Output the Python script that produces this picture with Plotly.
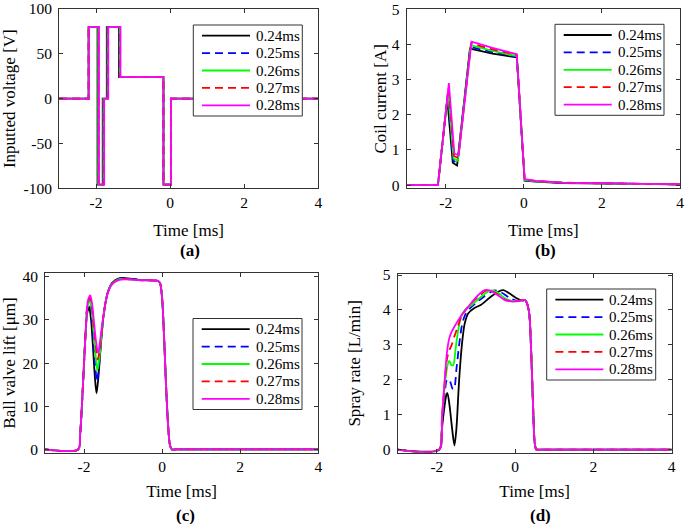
import plotly.graph_objects as go

labels = ["0.24ms", "0.25ms", "0.26ms", "0.27ms", "0.28ms"]
colors = ["#000000", "#0000ff", "#00ff00", "#ff0000", "#ff00ff"]
dashes = ["solid", "8px,5px", "solid", "8px,5px", "solid"]

# (a) Inputted voltage [V]
volt_t = [
    [-3, -2.2, -1.96, -1.82, -1.71, -1.38, -0.18, 0.02, 4],
    [-3, -2.2, -1.95, -1.81, -1.70, -1.37, -0.18, 0.02, 4],
    [-3, -2.2, -1.94, -1.80, -1.69, -1.36, -0.18, 0.02, 4],
    [-3, -2.2, -1.93, -1.79, -1.68, -1.35, -0.18, 0.02, 4],
    [-3, -2.2, -1.92, -1.78, -1.67, -1.34, -0.18, 0.02, 4],
]
volt_v = [0, 80, -96, 0, 80, 24, -96, 0, 0]

# (b) Coil current [A]
cur_t = [
    [-3, -2.2, -1.96, -1.82, -1.71, -1.38, -0.8, -0.18, 0.02, 0.3, 1, 2, 3, 4],
    [-3, -2.2, -1.95, -1.81, -1.70, -1.37, -0.8, -0.18, 0.02, 0.3, 1, 2, 3, 4],
    [-3, -2.2, -1.94, -1.80, -1.69, -1.36, -0.8, -0.18, 0.02, 0.3, 1, 2, 3, 4],
    [-3, -2.2, -1.93, -1.79, -1.68, -1.35, -0.8, -0.18, 0.02, 0.3, 1, 2, 3, 4],
    [-3, -2.2, -1.92, -1.78, -1.67, -1.34, -0.8, -0.18, 0.02, 0.3, 1, 2, 3, 4],
]
cur_v = [
    [0, 0, 2.45, 0.64, 0.56, 3.88, 3.74, 3.63, 0.13, 0.10, 0.06, 0.04, 0.03, 0.02],
    [0, 0, 2.56, 0.70, 0.62, 3.93, 3.78, 3.65, 0.14, 0.11, 0.065, 0.045, 0.03, 0.02],
    [0, 0, 2.67, 0.76, 0.69, 3.98, 3.82, 3.67, 0.15, 0.11, 0.07, 0.045, 0.03, 0.02],
    [0, 0, 2.78, 0.83, 0.77, 4.03, 3.86, 3.70, 0.16, 0.12, 0.07, 0.05, 0.03, 0.02],
    [0, 0, 2.90, 0.90, 0.85, 4.08, 3.90, 3.72, 0.17, 0.12, 0.07, 0.05, 0.03, 0.02],
]

# (c) Ball valve lift [um]
lift_common_rise_t = [-3, -2.15, -2.1, -2.05, -2.0, -1.96]
lift_common_rise_v = [0, 0, 3.5, 11, 20, 27]
lift_t = [
    [-1.92, -1.87, -1.82, -1.77, -1.72, -1.68, -1.63, -1.58, -1.52, -1.45, -1.38, -1.28, -1.12, -0.95, -0.6],
    [-1.92, -1.86, -1.81, -1.76, -1.71, -1.67, -1.62, -1.57, -1.51, -1.45, -1.38, -1.28, -1.12, -0.95, -0.6],
    [-1.91, -1.855, -1.80, -1.75, -1.70, -1.66, -1.61, -1.56, -1.51, -1.45, -1.38, -1.28, -1.12, -0.95, -0.6],
    [-1.91, -1.85, -1.80, -1.75, -1.69, -1.65, -1.60, -1.55, -1.51, -1.45, -1.38, -1.28, -1.12, -0.95, -0.6],
    [-1.90, -1.84, -1.79, -1.74, -1.69, -1.64, -1.59, -1.55, -1.50, -1.45, -1.38, -1.28, -1.12, -0.95, -0.6],
]
lift_v = [
    [31.5, 33.0, 30.0, 23.5, 16.5, 13.0, 17.0, 23.0, 29.5, 34.0, 36.8, 38.6, 39.6, 39.7, 39.3],
    [32.5, 33.7, 31.0, 25.0, 19.0, 15.7, 19.0, 24.5, 30.0, 34.0, 36.7, 38.5, 39.5, 39.6, 39.3],
    [33.0, 34.4, 32.0, 27.0, 21.5, 18.3, 21.0, 25.5, 30.3, 34.0, 36.7, 38.4, 39.4, 39.5, 39.2],
    [33.8, 35.1, 33.0, 28.0, 23.5, 20.8, 23.0, 27.0, 30.5, 34.0, 36.6, 38.3, 39.3, 39.5, 39.2],
    [34.5, 35.7, 33.5, 29.0, 24.8, 22.3, 25.0, 28.0, 31.0, 34.0, 36.6, 38.3, 39.2, 39.4, 39.2],
]
lift_common_fall_t = [-0.1, -0.05, 0.0, 0.05, 0.1, 0.15, 0.2, 0.25, 0.35, 4]
lift_common_fall_v = [39.0, 38.4, 35.0, 26.0, 15.0, 6.0, 1.0, 0, 0, 0]

# (d) Spray rate [L/min]
spray_t = [
    [-3, -1.94, -1.88, -1.82, -1.76, -1.73, -1.68, -1.61, -1.55, -1.5, -1.43, -1.36, -1.29, -1.2, -1.05, -0.87, -0.62, -0.42, -0.3, -0.15, 0.05, 0.2],
    [-3, -1.94, -1.87, -1.8, -1.74, -1.68, -1.6, -1.56, -1.5, -1.43, -1.36, -1.28, -1.15, -1.0, -0.8, -0.6, -0.5, -0.35, -0.15, 0.05, 0.2],
    [-3, -1.94, -1.87, -1.8, -1.73, -1.68, -1.63, -1.58, -1.52, -1.45, -1.38, -1.28, -1.1, -0.9, -0.7, -0.6, -0.45, -0.25, -0.05, 0.2],
    [-3, -1.94, -1.87, -1.8, -1.74, -1.68, -1.62, -1.55, -1.47, -1.38, -1.25, -1.1, -0.9, -0.75, -0.65, -0.45, -0.27, -0.05, 0.2],
    [-3, -1.94, -1.87, -1.8, -1.74, -1.68, -1.62, -1.52, -1.4, -1.25, -1.09, -0.92, -0.78, -0.65, -0.45, -0.27, -0.05, 0.2],
]
spray_v = [
    [0, 0, 0.5, 1.1, 1.55, 1.62, 1.3, 0.6, 0.12, 0.6, 2.0, 3.0, 3.6, 3.9, 4.05, 4.15, 4.38, 4.53, 4.57, 4.48, 4.33, 4.27],
    [0, 0, 0.8, 1.6, 2.0, 2.0, 1.75, 1.74, 2.3, 3.0, 3.55, 3.85, 4.05, 4.2, 4.38, 4.53, 4.56, 4.5, 4.35, 4.26, 4.28],
    [0, 0, 0.9, 1.8, 2.4, 2.54, 2.42, 2.42, 2.9, 3.45, 3.8, 4.0, 4.15, 4.35, 4.52, 4.56, 4.5, 4.33, 4.25, 4.28],
    [0, 0, 0.9, 1.9, 2.6, 2.85, 3.0, 3.25, 3.5, 3.8, 4.02, 4.22, 4.42, 4.55, 4.56, 4.45, 4.3, 4.24, 4.28],
    [0, 0, 0.9, 2.0, 2.8, 3.2, 3.38, 3.58, 3.8, 4.02, 4.24, 4.45, 4.57, 4.56, 4.43, 4.29, 4.24, 4.28],
]
spray_common_fall_t = [0.25, 0.3, 0.36, 0.41, 0.46, 0.5, 0.54, 0.6, 4]
spray_common_fall_v = [4.29, 4.2, 3.9, 2.8, 1.2, 0.2, 0, 0, 0]

FONT = "Liberation Serif"
W, H = 685, 524
LW = 1.8

fig = go.Figure()

for k in range(5):
    line = dict(color=colors[k], width=LW, dash=dashes[k])
    fig.add_trace(go.Scatter(x=volt_t[k], y=volt_v, mode="lines", line=dict(line, shape="hv"),
                             name=labels[k], legendgroup=labels[k], showlegend=False,
                             xaxis="x", yaxis="y"))
    fig.add_trace(go.Scatter(x=cur_t[k], y=cur_v[k], mode="lines", line=line,
                             name=labels[k], legendgroup=labels[k], showlegend=False,
                             xaxis="x2", yaxis="y2"))
    fig.add_trace(go.Scatter(x=lift_common_rise_t + lift_t[k] + lift_common_fall_t,
                             y=lift_common_rise_v + lift_v[k] + lift_common_fall_v,
                             mode="lines", line=dict(line, shape="spline", smoothing=0.8),
                             name=labels[k], legendgroup=labels[k], showlegend=False,
                             xaxis="x3", yaxis="y3"))
    fig.add_trace(go.Scatter(x=spray_t[k] + spray_common_fall_t,
                             y=spray_v[k] + spray_common_fall_v,
                             mode="lines", line=dict(line, shape="spline", smoothing=0.8),
                             name=labels[k], legendgroup=labels[k], showlegend=False,
                             xaxis="x4", yaxis="y4"))


def px_x(v):
    return v / W


def px_y(v):
    return 1 - v / H


axis_common = dict(showline=True, linecolor="#333333", linewidth=1, mirror="ticks",
                   ticks="inside", ticklen=4, tickcolor="#333333", showgrid=False,
                   zeroline=False, ticklabeloverflow="allow", automargin=False,
                   tickfont=dict(family=FONT, size=15.5, color="black"))

xticks = dict(tickmode="array", tickvals=[-2, 0, 2, 4], ticktext=["-2", "0", "2", "4"],
              range=[-3, 4])


def xax(d0, d1, anchor, standoff):
    return dict(axis_common, **xticks, domain=[px_x(d0), px_x(d1)], anchor=anchor,
                ticklabelstandoff=0,
                title=dict(text="Time [ms]", font=dict(family=FONT, size=17, color="black"), standoff=standoff))


def yax(d0, d1, anchor, rng, tv, title, standoff):
    return dict(axis_common, domain=[px_y(d1), px_y(d0)], anchor=anchor, range=rng,
                tickmode="array", tickvals=tv, ticktext=[str(v) for v in tv],
                ticklabelstandoff=3,
                title=dict(text=title, font=dict(family=FONT, size=17, color="black"), standoff=standoff))


fig.update_layout(
    width=W, height=H,
    margin=dict(l=0, r=0, t=0, b=0, autoexpand=False),
    paper_bgcolor="white", plot_bgcolor="white",
    showlegend=False,
    xaxis=xax(59, 318.3, "y", 14),
    yaxis=yax(9, 188.3, "x", [-100, 100], [-100, -50, 0, 50, 100], "Inputted voltage [V]", 6),
    xaxis2=xax(406.7, 680, "y2", 14),
    yaxis2=yax(9.3, 188.3, "x2", [-0.09, 5.0], [0, 1, 2, 3, 4, 5], "Coil current [A]", 0),
    xaxis3=xax(45, 318.3, "y3", 10),
    yaxis3=yax(273.3, 452.7, "x3", [-0.75, 40.8], [0, 10, 20, 30, 40], "Ball valve lift [μm]", 6),
    xaxis4=xax(397.7, 671.7, "y4", 10),
    yaxis4=yax(274, 452.7, "x4", [-0.09, 5.03], [0, 1, 2, 3, 4, 5], "Spray rate [L/min]", 17),
)

# legend boxes (one per panel), built from the series lists
legend_origins = [(193.3, 25), (555, 24.3), (193, 318.5), (546.7, 289)]
BOX_W, BOX_H = 109, 91
for (lx, ly) in legend_origins:
    fig.add_shape(type="rect", xref="paper", yref="paper",
                  x0=px_x(lx), x1=px_x(lx + BOX_W), y0=px_y(ly + BOX_H), y1=px_y(ly),
                  line=dict(color="#333333", width=1), fillcolor="white", layer="above")
    for k in range(5):
        yy = ly + 10.7 + 17.4 * k
        fig.add_shape(type="line", xref="paper", yref="paper",
                      x0=px_x(lx + 8.7), x1=px_x(lx + 56.7), y0=px_y(yy), y1=px_y(yy),
                      line=dict(color=colors[k], width=LW, dash=dashes[k]), layer="above")
        fig.add_annotation(text=labels[k], x=px_x(lx + 60.5), y=px_y(yy), xref="paper", yref="paper",
                           showarrow=False, xanchor="left", yanchor="middle",
                           font=dict(family=FONT, size=15, color="black"))

panel_labels = [("(a)", 190, 251), ("(b)", 545, 251), ("(c)", 185, 515), ("(d)", 540, 515)]
for txt, xx, yy in panel_labels:
    fig.add_annotation(text="<b>%s</b>" % txt, x=px_x(xx), y=px_y(yy), xref="paper", yref="paper",
                       showarrow=False, font=dict(family=FONT, size=17, color="black"),
                       xanchor="center", yanchor="middle")

fig.write_html("out.html", config={"displayModeBar": False},
               post_script="document.body.style.margin='0';")
